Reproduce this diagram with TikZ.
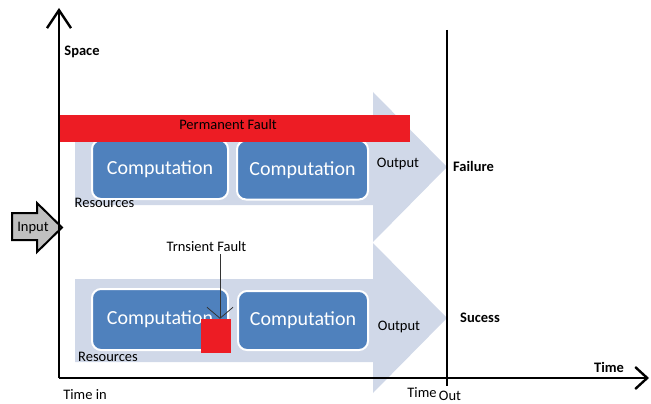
\documentclass[tikz,border=0pt]{standalone}
\usepackage{fontspec}
\setmainfont{Carlito}
\usetikzlibrary{arrows.meta}
\definecolor{lightarr}{RGB}{208,216,232}
\definecolor{compblue}{RGB}{79,129,189}
\definecolor{faultred}{RGB}{237,28,36}
\definecolor{inputgrey}{RGB}{192,192,192}
\begin{document}
\begin{tikzpicture}[x=1pt,y=-1pt,
  lbl/.style={inner sep=0pt,font=\fontsize{14.5}{16}\selectfont},
  blbl/.style={inner sep=0pt,font=\fontsize{14.5}{16}\selectfont\bfseries},
  compbox/.style={draw=white,line width=2pt,fill=compblue,rounded corners=9pt,
    text=white,inner sep=0pt,font=\fontsize{20}{22}\selectfont},
  bigarrow/.style={fill=lightarr,draw=none},
  axis/.style={line width=2.4pt,black},
  axtip/.style={-{Straight Barb[length=18pt,width=24pt,line width=2.4pt]}}
]
\useasboundingbox (0,0) rectangle (651,404);
% big light arrows
\fill[bigarrow] (75,122) -- (373,122) -- (373,92) -- (447,167) -- (373,242) -- (373,205) -- (75,205) -- cycle;
\fill[bigarrow] (75,279) -- (373,279) -- (373,243) -- (447,318) -- (373,393) -- (373,362) -- (75,362) -- cycle;
% computation boxes
\node[compbox,minimum width=136pt,minimum height=59pt] (c1) at (160,169.5) {Computation};
\node[compbox,minimum width=131pt,minimum height=59pt] (c2) at (302.5,170) {Computation};
\node[compbox,minimum width=136pt,minimum height=61pt] (c3) at (160,319.5) {Computation};
\node[compbox,minimum width=130pt,minimum height=59pt] (c4) at (303,320.5) {Computation};
% permanent fault bar
\node[fill=faultred,draw=none,inner sep=0pt,minimum width=352pt,minimum height=27pt] (pfbar) at (234,128.5) {};
\node[lbl] (pf) at (228,125) {Permanent Fault};
% transient fault
\node[fill=faultred,draw=none,inner sep=0pt,minimum width=30pt,minimum height=34pt] (sq) at (216,336) {};
\node[lbl] (tf) at (206.5,247) {Trnsient Fault};
\draw[black!80,line width=0.9pt,-{Straight Barb[length=11pt,width=26pt,line width=0.8pt]}]
  ([xshift=4pt]sq.north |- tf.south) ++(0,2) -- ([xshift=4pt]sq.north);
% input arrow
\draw[fill=inputgrey,line width=2pt,line join=miter] (12,213) -- (37,213) -- (37,203) -- (62,227.5) -- (37,252) -- (37,240) -- (12,240) -- cycle;
\node[lbl] (inp) at (33,228) {Input};
% labels
\node[blbl] (space) at (82,52) {Space};
\node[lbl] (out1) at (398,164) {Output};
\node[lbl] (out2) at (399,327) {Output};
\node[blbl] (fail) at (473.5,166) {Failure};
\node[blbl] (succ) at (480,318) {Sucess};
\node[lbl] (res1) at (104.5,203) {Resources};
\node[lbl] (res2) at (108,357) {Resources};
\node[blbl] (time) at (609,367) {Time};
\node[lbl] (tin) at (85,395) {Time in};
\node[lbl] (tout1) at (422,393) {Time};
\node[lbl] (tout2) at (450,396) {Out};
% axes
\coordinate (origin) at (59,378);
\coordinate (ytip) at (59,8);
\coordinate (xtip) at (649,378);
\coordinate (tot) at (447,30);
\coordinate (tob) at (447,386);
\draw[axis,axtip] (origin) -- (ytip);
\draw[axis,-{Straight Barb[length=12pt,width=22pt,line width=2.4pt]}] (origin) -- (xtip);
\draw[line width=2pt] (tot) -- (tob);
\end{tikzpicture}
\end{document}
